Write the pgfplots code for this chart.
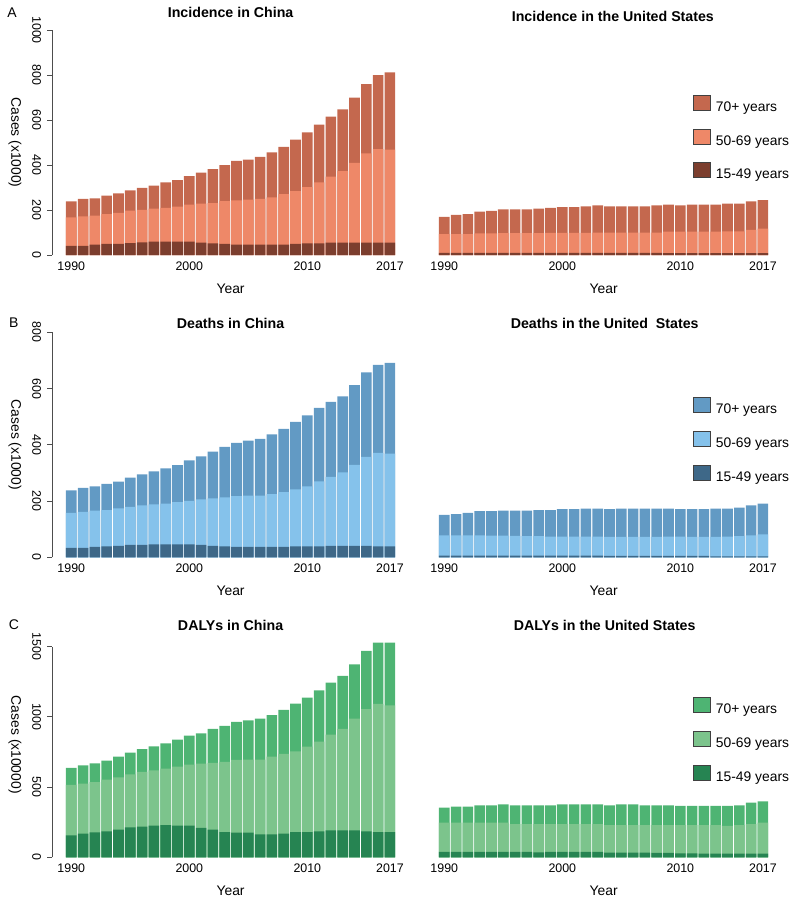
\documentclass[border=0pt]{standalone}
\usepackage{pgfplots}
\usepackage{pgfplotstable}
\pgfplotsset{compat=1.18}
\usepackage{fontspec}
\setmainfont{Liberation Sans}

\definecolor{iA}{HTML}{C4684E}
\definecolor{iB}{HTML}{EE8868}
\definecolor{iC}{HTML}{7C3E2E}
\definecolor{dA}{HTML}{629AC4}
\definecolor{dB}{HTML}{85C2EB}
\definecolor{dC}{HTML}{3E6888}
\definecolor{gA}{HTML}{4EB473}
\definecolor{gB}{HTML}{7CC48C}
\definecolor{gC}{HTML}{268452}
\definecolor{axgray}{HTML}{4D4D4D}

% columns: year, top of 70+ (total), top of 50-69, top of 15-49
\pgfplotstableread{
year top mid low
1990 238 167 41
1991 249 172 41
1992 252 175 46
1993 264 182 49
1994 274 187 49
1995 287 197 53
1996 298 201 56
1997 308 206 59
1998 323 210 59
1999 333 215 59
2000 351 224 59
2001 366 228 55
2002 382 231 52
2003 400 239 49
2004 418 243 46
2005 424 246 46
2006 436 249 46
2007 456 256 46
2008 481 271 46
2009 513 284 49
2010 545 302 52
2011 579 323 52
2012 615 348 55
2013 647 373 55
2014 699 409 55
2015 759 452 55
2016 800 471 55
2017 812 468 55
}\incCN
\pgfplotstableread{
year top mid low
1990 170 93 10
1991 178 93 10
1992 182 93 10
1993 193 96 10
1994 196 96 10
1995 203 97 10
1996 203 97 10
1997 203 97 10
1998 206 97 10
1999 210 98 10
2000 213 98 10
2001 213 98 10
2002 216 98 10
2003 221 99 10
2004 216 99 9
2005 216 99 9
2006 216 99 9
2007 216 99 9
2008 221 100 9
2009 224 104 8
2010 221 104 8
2011 224 104 8
2012 224 104 8
2013 224 104 8
2014 228 105 8
2015 228 105 8
2016 238 112 8
2017 244 117 8
}\incUS
\pgfplotstableread{
year top mid low
1990 238 158 34
1991 247 162 34
1992 252 166 37
1993 261 168 39
1994 269 174 41
1995 283 179 44
1996 295 185 44
1997 306 188 46
1998 316 191 46
1999 328 196 46
2000 345 201 46
2001 359 206 44
2002 376 210 41
2003 393 213 39
2004 407 218 37
2005 415 219 37
2006 421 219 37
2007 437 225 37
2008 457 232 37
2009 482 242 39
2010 505 252 39
2011 531 270 39
2012 553 286 41
2013 572 302 41
2014 612 329 41
2015 658 357 41
2016 684 371 39
2017 691 369 39
}\deaCN
\pgfplotstableread{
year top mid low
1990 151 78 6
1991 154 78 6
1992 158 78 6
1993 164 78 6
1994 164 77 6
1995 166 77 6
1996 166 76 6
1997 166 75 6
1998 168 75 6
1999 168 74 6
2000 171 74 6
2001 171 74 6
2002 173 74 6
2003 173 74 6
2004 171 73 5
2005 173 73 5
2006 173 73 5
2007 173 73 5
2008 173 73 5
2009 173 74 5
2010 171 74 5
2011 171 73 5
2012 171 73 5
2013 173 73 3
2014 173 74 3
2015 177 75 3
2016 185 78 3
2017 191 82 3
}\deaUS
\pgfplotstableread{
year top mid low
1990 636 515 157
1991 655 525 169
1992 669 536 178
1993 688 553 185
1994 717 570 197
1995 745 591 214
1996 771 608 218
1997 790 619 225
1998 812 631 230
1999 838 646 225
2000 866 660 225
2001 883 667 209
2002 914 672 197
2003 935 679 180
2004 964 693 176
2005 975 695 176
2006 987 695 164
2007 1013 717 164
2008 1049 736 169
2009 1094 755 180
2010 1137 788 180
2011 1189 824 185
2012 1244 873 192
2013 1291 914 192
2014 1374 987 192
2015 1469 1056 185
2016 1528 1092 180
2017 1528 1082 180
}\dalCN
\pgfplotstableread{
year top mid low
1990 354 247 38
1991 361 247 38
1992 361 247 38
1993 370 247 38
1994 370 247 38
1995 377 247 38
1996 370 237 38
1997 370 237 38
1998 370 237 36
1999 370 237 38
2000 377 237 38
2001 377 237 38
2002 377 237 38
2003 377 237 38
2004 370 230 33
2005 377 230 33
2006 377 230 33
2007 370 230 33
2008 370 230 31
2009 370 230 31
2010 366 230 28
2011 366 230 28
2012 366 230 26
2013 366 230 26
2014 366 223 26
2015 370 230 26
2016 389 237 26
2017 399 247 26
}\dalUS

\pgfplotsset{
  mybar/.style={ybar, bar shift=0pt, bar width=0.9, draw=none,
    legend image code/.code={\draw[##1, draw=black!75, line width=0.6pt] (0pt,-1.9pt) rectangle (12.75pt,9.3pt);}},
  panel/.style={
    scale only axis, width=267.3pt, height=168.75pt,
    xmin=1988.4, xmax=2018.6, ymin=0, clip=false,
    axis line style={draw=none},
    xtick={1990,2000,2010,2017}, xtick style={draw=none},
    tick align=outside, tick pos=left, major tick length=3.75pt,
    ytick style={axgray, line width=0.75pt},
    /pgf/number format/1000 sep={},
    /pgf/number format/assume math mode=true,
    ticklabel style={font=\fontsize{9.3}{11}\selectfont},
    xticklabel style={anchor=north, inner sep=0pt, yshift=-1pt},
    xlabel=Year,
    xlabel style={at={(axis description cs:0.5,-0.151)}, anchor=center, font=\fontsize{10.4}{12}\selectfont},
    every axis title shift=0pt,
    title style={anchor=center, font=\bfseries\fontsize{10.65}{12}\selectfont},
  },
  leftpanel/.style={
    panel,
    yticklabel style={rotate=-90, anchor=north, inner sep=0pt, yshift=-4.5pt},
    ylabel style={at={(axis description cs:-0.105,0.5)}, anchor=center, rotate=180, font=\fontsize{10.4}{12}\selectfont},
  },
  rightpanel/.style={
    panel, ytick=\empty,
    legend cell align=left,
    legend style={at={(rel axis cs:0.751,0.711)}, anchor=north west, draw=none, fill=none,
      inner sep=0pt, outer sep=0pt, row sep=11.25pt, column sep=3.75pt,
      nodes={inner sep=0pt, font=\fontsize{10.4}{12}\selectfont}},
  },
}

\begin{document}
\begin{tikzpicture}
\useasboundingbox (0pt,0pt) rectangle (594.75pt,-678pt);

% ---------- Row A ----------
\begin{axis}[leftpanel, at={(39.3pt,-191.25pt)}, anchor=south west,
  ymax=1000, ytick={0,200,400,600,800,1000}, ylabel={Cases (x1000)},
  title={Incidence in China}, title style={at={(axis description cs:0.5,1.0778)}}]
\addplot[mybar, fill=iA] table[x=year,y=top] {\incCN};
\addplot[mybar, fill=iB] table[x=year,y=mid] {\incCN};
\addplot[mybar, fill=iC] table[x=year,y=low] {\incCN};
\draw[axgray, line width=0.75pt] (axis cs:1988.4,0) -- (axis cs:1988.4,1000);
\node[font=\fontsize{10.5}{12}\selectfont] at (axis description cs:-0.113,1.076) {A};
\end{axis}
\begin{axis}[rightpanel, at={(319.05pt,-191.25pt)}, anchor=south west,
  ymax=1000,
  title={Incidence in the United States}, title style={at={(axis description cs:0.526,1.062)}}]
\addplot[mybar, fill=iA] table[x=year,y=top] {\incUS};
\addplot[mybar, fill=iB] table[x=year,y=mid] {\incUS};
\addplot[mybar, fill=iC] table[x=year,y=low] {\incUS};
\legend{70+ years, 50-69 years, 15-49 years}
\end{axis}

% ---------- Row B ----------
\begin{axis}[leftpanel, at={(39.3pt,-417.98pt)}, anchor=south west,
  ymax=800, ytick={0,200,400,600,800}, ylabel={Cases (x1000)},
  title={Deaths in China}, title style={at={(axis description cs:0.5,1.0413)}}]
\addplot[mybar, fill=dA] table[x=year,y=top] {\deaCN};
\addplot[mybar, fill=dB] table[x=year,y=mid] {\deaCN};
\addplot[mybar, fill=dC] table[x=year,y=low] {\deaCN};
\draw[axgray, line width=0.75pt] (axis cs:1988.4,0) -- (axis cs:1988.4,800);
\node[font=\fontsize{10.5}{12}\selectfont] at (axis description cs:-0.108,1.041) {B};
\end{axis}
\begin{axis}[rightpanel, at={(319.05pt,-417.98pt)}, anchor=south west,
  ymax=800,
  title={Deaths in the United\ \ States}, title style={at={(axis description cs:0.503,1.0413)}}]
\addplot[mybar, fill=dA] table[x=year,y=top] {\deaUS};
\addplot[mybar, fill=dB] table[x=year,y=mid] {\deaUS};
\addplot[mybar, fill=dC] table[x=year,y=low] {\deaUS};
\legend{70+ years, 50-69 years, 15-49 years}
\end{axis}

% ---------- Row C ----------
\begin{axis}[leftpanel, at={(39.3pt,-642.98pt)}, anchor=south west,
  ymax=1602, ytick={0,500,1000,1500}, ylabel={Cases (x10000)},
  title={DALYs in China}, title style={at={(axis description cs:0.5,1.0324)}}]
\addplot[mybar, fill=gA] table[x=year,y=top] {\dalCN};
\addplot[mybar, fill=gB] table[x=year,y=mid] {\dalCN};
\addplot[mybar, fill=gC] table[x=year,y=low] {\dalCN};
\draw[axgray, line width=0.75pt] (axis cs:1988.4,0) -- (axis cs:1988.4,1500);
\node[font=\fontsize{10.5}{12}\selectfont] at (axis description cs:-0.108,1.032) {C};
\end{axis}
\begin{axis}[rightpanel, at={(319.05pt,-642.98pt)}, anchor=south west,
  ymax=1602,
  title={DALYs in the United States}, title style={at={(axis description cs:0.503,1.0324)}}]
\addplot[mybar, fill=gA] table[x=year,y=top] {\dalUS};
\addplot[mybar, fill=gB] table[x=year,y=mid] {\dalUS};
\addplot[mybar, fill=gC] table[x=year,y=low] {\dalUS};
\legend{70+ years, 50-69 years, 15-49 years}
\end{axis}
\end{tikzpicture}
\end{document}
